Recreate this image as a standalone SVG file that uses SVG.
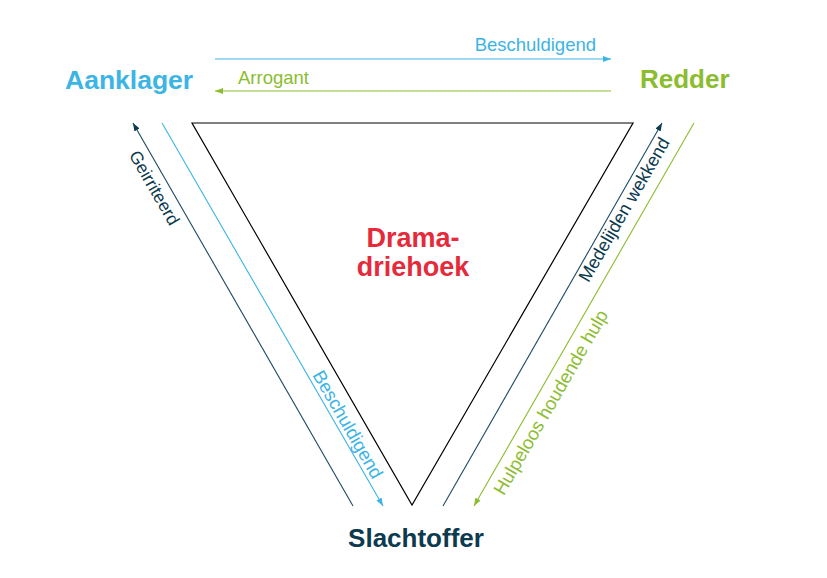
<svg xmlns="http://www.w3.org/2000/svg" width="827" height="578" viewBox="0 0 827 578">
  <style>
    text { font-family: "Liberation Sans", Arial, sans-serif; }
    .node { font-weight: bold; font-size: 26px; }
    .lbl { font-size: 18.5px; }
    .blue { fill: #3cb4e5; }
    .green { fill: #8bbd2f; }
    .navy { fill: #0c3a4e; }
    .red { fill: #e52a3b; }
    .edge { fill: none; stroke-width: 1.1; }
    .e-blue { stroke: #3cb4e5; }
    .e-green { stroke: #8bbd2f; }
    .e-navy { stroke: #1b4a60; }
  </style>
  <defs>
    <marker id="ah-blue" markerUnits="userSpaceOnUse" markerWidth="9" markerHeight="6" refX="8" refY="3" orient="auto">
      <path d="M0,0 L8,3 L0,6 Z" fill="#3cb4e5"/>
    </marker>
    <marker id="ah-green" markerUnits="userSpaceOnUse" markerWidth="9" markerHeight="6" refX="8" refY="3" orient="auto">
      <path d="M0,0 L8,3 L0,6 Z" fill="#8bbd2f"/>
    </marker>
    <marker id="ah-navy" markerUnits="userSpaceOnUse" markerWidth="9" markerHeight="6" refX="8" refY="3" orient="auto">
      <path d="M0,0 L8,3 L0,6 Z" fill="#0c3a4e"/>
    </marker>
  </defs>
  <rect width="827" height="578" fill="#ffffff"/>

  <g id="node-drama-driehoek">
    <polygon points="192,123 633,123 412,505" fill="none" stroke="#000000" stroke-width="1.2"/>
    <text class="node red" font-size="27" x="413" y="247" text-anchor="middle" style="font-size:27px">Drama-</text>
    <text class="node red" x="413" y="276" text-anchor="middle" style="font-size:27px">driehoek</text>
  </g>

  <g id="node-aanklager">
    <text class="node blue" x="65" y="89" style="font-size:26.5px">Aanklager</text>
  </g>

  <g id="node-redder">
    <text class="node green" x="640" y="88">Redder</text>
  </g>

  <g id="node-slachtoffer">
    <text class="node navy" x="416" y="547" text-anchor="middle">Slachtoffer</text>
  </g>

  <g id="connectors">
    <line class="edge e-blue" x1="215" y1="59" x2="611" y2="59" marker-end="url(#ah-blue)"/>
    <text class="lbl blue" x="596" y="51" text-anchor="end">Beschuldigend</text>

    <line class="edge e-green" x1="611" y1="91" x2="215" y2="91" marker-end="url(#ah-green)"/>
    <text class="lbl green" x="238" y="84">Arrogant</text>

    <line class="edge e-navy" x1="353" y1="506" x2="133" y2="123" marker-end="url(#ah-navy)"/>
    <text class="lbl navy" transform="translate(128.5,155) rotate(60)" style="font-size:17.5px">Geirriteerd</text>

    <line class="edge e-blue" x1="162" y1="123" x2="383" y2="506" marker-end="url(#ah-blue)"/>
    <text class="lbl blue" transform="translate(312,375) rotate(60)">Beschuldigend</text>

    <line class="edge e-navy" x1="443" y1="506" x2="662" y2="123" marker-end="url(#ah-navy)"/>
    <text class="lbl navy" transform="translate(588.6,283.3) rotate(-60)" style="font-size:18px">Medelijden wekkend</text>

    <line class="edge e-green" x1="694" y1="123" x2="474" y2="506" marker-end="url(#ah-green)"/>
    <text class="lbl green" transform="translate(503.8,496.3) rotate(-60)">Hulpeloos houdende hulp</text>
  </g>
</svg>
